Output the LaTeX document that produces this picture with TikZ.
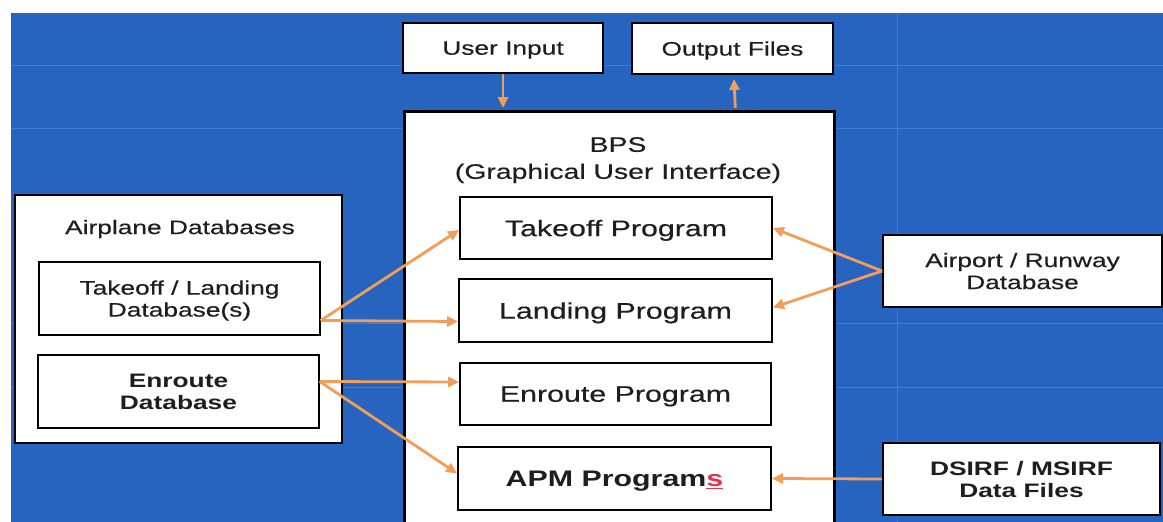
\documentclass[tikz,border=0pt]{standalone}
\usepackage{fontspec}
\setmainfont{Liberation Sans}[FakeStretch=1.35, UprightFeatures={FakeBold=0.35}]
\usetikzlibrary{arrows.meta,calc}
\definecolor{bgblue}{RGB}{38,100,192}
\definecolor{gridblue}{RGB}{70,125,205}
\definecolor{arr}{RGB}{243,158,88}
\definecolor{txt}{RGB}{30,30,30}
\definecolor{spell}{RGB}{225,50,80}
\tikzset{
  box/.style={draw=black, line width=1.8pt, fill=white, text=txt, align=center, inner sep=0pt, text depth=0pt},
  fsmall/.style={font=\fontsize{19.5}{22}\selectfont},
  fbig/.style={font=\fontsize{22.5}{25}\selectfont},
  link/.style={draw=arr, line width=2.8pt, -{Triangle[length=11pt,width=10pt]}},
}
\begin{document}
\begin{tikzpicture}[x=1pt,y=-1pt]
\useasboundingbox (0,0) rectangle (1163,522);
\clip (0,0) rectangle (1163,522);
\fill[white] (0,0) rectangle (1163,522);
\fill[bgblue] (11,13) rectangle (1170,530);
% faint grid
\foreach \yy in {65,128,323,387}
  \draw[gridblue, line width=0.8pt] (11,\yy) -- (1163,\yy);
\draw[gridblue, line width=0.8pt] (897,13) -- (897,522);

% top boxes
\node[box, fsmall, minimum width=200pt, minimum height=50pt] (ui) at (503,48) {User Input};
\node[box, fsmall, minimum width=201pt, minimum height=51pt] (of) at (732.5,48.5) {Output Files};

% BPS box
\node[box, line width=2.6pt, minimum width=430pt, minimum height=425pt, anchor=north west] (bps) at (403,110) {};
\node[text=txt, align=center, text depth=0pt, font=\fontsize{21}{27}\selectfont] (bpst) at (618,158) {BPS\\(Graphical User Interface)};

\node[box, fbig, minimum width=312pt, minimum height=62pt] (tp) at (616,228) {Takeoff Program};
\node[box, fbig, minimum width=313pt, minimum height=63pt] (lp) at (615.5,310.5) {Landing Program};
\node[box, fbig, minimum width=311pt, minimum height=62pt] (ep) at (615.5,394) {Enroute Program};
\node[box, fbig, minimum width=313pt, minimum height=63pt] (apm) at (614.5,478.5) {\bfseries APM Program{\color{spell}\underline{s}}};

% Airplane databases
\node[box, minimum width=327pt, minimum height=248pt] (adb) at (178.5,319) {};
\node[text=txt, fsmall, text depth=0pt] (adbt) at (180,227) {Airplane Databases};
\node[box, line width=1.4pt, fsmall, minimum width=281pt, minimum height=73pt] (tldb) at (179.5,298.5) {Takeoff / Landing\\Database(s)};
\node[box, line width=1.4pt, fsmall, minimum width=281pt, minimum height=73pt] (edb) at (178.5,391.5) {\bfseries Enroute\\\bfseries Database};

% right boxes
\node[box, fsmall, minimum width=279pt, minimum height=72pt] (ardb) at (1022.5,271) {Airport / Runway\\Database};
\node[box, fsmall, minimum width=277pt, minimum height=72pt] (dsirf) at (1021.5,479) {\bfseries DSIRF / MSIRF\\\bfseries Data Files};

% connectors
\coordinate (tlo) at ($(tldb.east)+(0,22)$);
\coordinate (eo) at ($(edb.east)+(0,-10)$);
\draw[link] (ui.south) -- ($(ui.south |- bps.north)+(0,-2)$);
\draw[link] ($(bps.north)+(116,-2)$) -- ($(of.south)+(1.5,4)$);
\draw[link] (tlo) -- ($(tp.west)+(0,2)$);
\draw[link] (tlo) -- ($(lp.west)+(0,11)$);
\draw[link] (eo) -- ($(ep.west)+(0,-12)$);
\draw[link] (eo) -- ($(apm.west)+(0,-5)$);
\draw[link] (ardb.west) -- (tp.east);
\draw[link] (ardb.west) -- ($(lp.east)+(0,-3)$);
\draw[link] (dsirf.west) -- (apm.east);
\end{tikzpicture}
\end{document}
